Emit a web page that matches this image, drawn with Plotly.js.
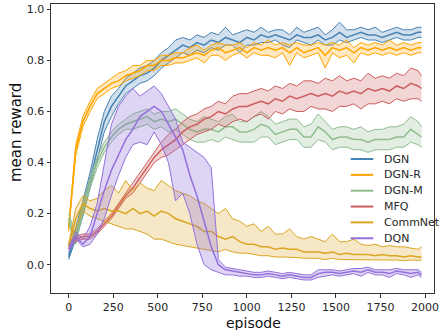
<!DOCTYPE html>
<html>
<head>
<meta charset="utf-8">
<script src="https://cdn.plot.ly/plotly-3.0.1.min.js"></script>
<style>html,body{margin:0;padding:0;background:#fff;}#chart{width:440px;height:330px;}</style>
</head>
<body>
<div id="chart"></div>
<script>
const episodes = [0,40,80,120,160,200,240,280,320,360,
  400,440,480,520,560,600,640,680,720,760,
  800,840,880,920,960,1000,1040,1080,1120,1160,
  1200,1240,1280,1320,1360,1400,1440,1480,1520,1560,
  1600,1640,1680,1720,1760,1800,1840,1880,1920,1960,1980];

const seriesNames = ["DGN","DGN-R","DGN-M","MFQ","CommNet","DQN"];

const dgnMean = [0.03,0.12,0.22,0.33,0.45,0.56,0.62,0.66,0.70,0.72,
  0.74,0.75,0.77,0.80,0.82,0.84,0.86,0.85,0.87,0.86,
  0.88,0.87,0.89,0.88,0.87,0.89,0.88,0.90,0.89,0.90,
  0.89,0.88,0.90,0.89,0.89,0.90,0.88,0.89,0.91,0.89,
  0.90,0.91,0.90,0.90,0.89,0.90,0.91,0.90,0.90,0.91,0.91];
const dgnUpper = [0.04,0.14,0.25,0.36,0.49,0.60,0.66,0.69,0.73,0.75,
  0.77,0.78,0.80,0.83,0.85,0.88,0.89,0.88,0.90,0.89,
  0.91,0.90,0.93,0.90,0.91,0.92,0.91,0.93,0.91,0.92,
  0.92,0.90,0.93,0.91,0.92,0.93,0.90,0.92,0.95,0.92,
  0.92,0.93,0.92,0.93,0.91,0.92,0.93,0.92,0.92,0.93,0.93];
const dgnLower = [0.02,0.10,0.19,0.30,0.41,0.52,0.58,0.63,0.67,0.69,
  0.71,0.72,0.74,0.77,0.79,0.81,0.83,0.82,0.84,0.83,
  0.85,0.84,0.86,0.86,0.83,0.86,0.86,0.87,0.87,0.88,
  0.86,0.85,0.88,0.87,0.86,0.88,0.86,0.86,0.88,0.87,
  0.88,0.89,0.88,0.88,0.87,0.88,0.89,0.88,0.88,0.89,0.89];

const dgnrMean = [0.14,0.45,0.56,0.62,0.67,0.69,0.71,0.72,0.74,0.75,
  0.76,0.78,0.78,0.80,0.80,0.81,0.81,0.82,0.83,0.82,
  0.84,0.85,0.83,0.84,0.85,0.83,0.85,0.84,0.85,0.84,
  0.85,0.83,0.85,0.83,0.84,0.85,0.82,0.85,0.84,0.85,
  0.83,0.85,0.84,0.85,0.84,0.85,0.84,0.85,0.84,0.85,0.85];
const dgnrUpper = [0.15,0.47,0.58,0.64,0.69,0.71,0.73,0.75,0.76,0.78,
  0.78,0.80,0.80,0.82,0.82,0.83,0.83,0.85,0.86,0.84,
  0.86,0.87,0.86,0.86,0.87,0.85,0.87,0.86,0.88,0.86,
  0.87,0.86,0.87,0.86,0.86,0.87,0.86,0.87,0.86,0.88,
  0.85,0.87,0.86,0.87,0.86,0.88,0.86,0.87,0.86,0.87,0.87];
const dgnrLower = [0.13,0.43,0.54,0.60,0.65,0.67,0.69,0.70,0.72,0.73,
  0.74,0.76,0.76,0.78,0.78,0.79,0.79,0.80,0.81,0.79,
  0.82,0.82,0.80,0.82,0.83,0.81,0.83,0.82,0.82,0.81,
  0.83,0.78,0.83,0.81,0.82,0.83,0.77,0.83,0.81,0.82,
  0.79,0.83,0.82,0.83,0.82,0.83,0.82,0.83,0.82,0.83,0.83];

const dgnmMean = [0.18,0.10,0.22,0.32,0.40,0.46,0.50,0.53,0.55,0.56,
  0.57,0.58,0.56,0.57,0.56,0.57,0.55,0.53,0.52,0.53,
  0.53,0.52,0.54,0.54,0.52,0.52,0.53,0.55,0.54,0.51,
  0.52,0.53,0.53,0.50,0.50,0.54,0.52,0.49,0.50,0.50,
  0.49,0.49,0.48,0.49,0.49,0.49,0.50,0.50,0.53,0.51,0.50];
const dgnmUpper = [0.20,0.12,0.24,0.34,0.42,0.48,0.52,0.55,0.57,0.59,
  0.60,0.61,0.59,0.60,0.60,0.61,0.59,0.57,0.56,0.58,
  0.57,0.56,0.58,0.59,0.56,0.56,0.58,0.60,0.58,0.55,
  0.56,0.57,0.57,0.54,0.55,0.59,0.56,0.53,0.54,0.54,
  0.53,0.54,0.52,0.53,0.53,0.54,0.54,0.55,0.58,0.56,0.54];
const dgnmLower = [0.16,0.08,0.20,0.30,0.38,0.44,0.48,0.51,0.53,0.53,
  0.54,0.55,0.53,0.54,0.52,0.53,0.51,0.49,0.48,0.48,
  0.49,0.48,0.50,0.49,0.48,0.48,0.48,0.50,0.50,0.47,
  0.48,0.49,0.49,0.46,0.46,0.49,0.48,0.45,0.46,0.46,
  0.45,0.45,0.44,0.45,0.45,0.45,0.46,0.46,0.48,0.47,0.46];

const mfqMean = [0.08,0.10,0.11,0.11,0.13,0.16,0.19,0.23,0.27,0.30,
  0.34,0.38,0.42,0.45,0.47,0.49,0.52,0.54,0.55,0.57,
  0.58,0.60,0.59,0.61,0.62,0.62,0.63,0.64,0.63,0.65,
  0.64,0.66,0.65,0.66,0.67,0.66,0.67,0.66,0.68,0.67,
  0.68,0.67,0.69,0.68,0.69,0.68,0.70,0.69,0.71,0.70,0.69];
const mfqUpper = [0.09,0.11,0.12,0.12,0.14,0.17,0.20,0.24,0.28,0.32,
  0.36,0.40,0.44,0.48,0.51,0.53,0.56,0.58,0.59,0.61,
  0.62,0.64,0.63,0.66,0.67,0.67,0.68,0.69,0.68,0.70,
  0.69,0.71,0.70,0.72,0.72,0.71,0.73,0.72,0.74,0.72,
  0.73,0.72,0.75,0.73,0.74,0.73,0.75,0.74,0.77,0.76,0.74];
const mfqLower = [0.07,0.09,0.10,0.10,0.12,0.15,0.18,0.22,0.26,0.28,
  0.32,0.36,0.40,0.42,0.43,0.45,0.47,0.49,0.51,0.52,
  0.53,0.55,0.54,0.56,0.57,0.56,0.58,0.59,0.57,0.60,
  0.59,0.61,0.60,0.60,0.62,0.61,0.61,0.60,0.62,0.62,
  0.63,0.61,0.63,0.63,0.64,0.63,0.65,0.64,0.65,0.65,0.64];

const commMean = [0.07,0.18,0.24,0.22,0.21,0.22,0.21,0.21,0.20,0.22,
  0.20,0.21,0.19,0.21,0.20,0.18,0.17,0.16,0.15,0.13,
  0.13,0.11,0.10,0.11,0.09,0.08,0.08,0.07,0.07,0.06,
  0.065,0.06,0.06,0.05,0.05,0.05,0.045,0.05,0.04,0.045,
  0.04,0.04,0.04,0.035,0.04,0.035,0.035,0.03,0.035,0.03,0.03];
const commUpper = [0.08,0.22,0.27,0.25,0.26,0.29,0.31,0.28,0.33,0.29,
  0.32,0.30,0.29,0.33,0.31,0.29,0.28,0.27,0.25,0.24,
  0.22,0.20,0.22,0.18,0.17,0.15,0.16,0.13,0.15,0.12,
  0.12,0.14,0.11,0.10,0.11,0.10,0.09,0.12,0.09,0.09,
  0.10,0.08,0.075,0.08,0.07,0.075,0.07,0.07,0.065,0.06,0.07];
const commLower = [0.06,0.14,0.21,0.19,0.18,0.17,0.16,0.15,0.14,0.14,
  0.13,0.12,0.10,0.10,0.09,0.08,0.075,0.07,0.065,0.06,
  0.055,0.05,0.06,0.05,0.045,0.045,0.04,0.035,0.035,0.03,
  0.03,0.03,0.028,0.025,0.025,0.025,0.02,0.025,0.02,0.02,
  0.02,0.02,0.018,0.02,0.018,0.02,0.018,0.016,0.018,0.017,0.018];

const dqnMean = [0.06,0.11,0.08,0.11,0.20,0.29,0.37,0.43,0.49,0.53,
  0.58,0.60,0.62,0.60,0.55,0.50,0.45,0.35,0.27,0.17,
  0.07,0.00,-0.02,-0.025,-0.03,-0.035,-0.04,-0.04,-0.035,-0.04,
  -0.045,-0.04,-0.045,-0.05,-0.05,-0.035,-0.03,-0.03,-0.035,-0.03,
  -0.025,-0.03,-0.02,-0.03,-0.03,-0.035,-0.025,-0.03,-0.035,-0.03,-0.04];
const dqnUpper = [0.07,0.13,0.10,0.15,0.24,0.40,0.55,0.62,0.66,0.69,
  0.66,0.68,0.70,0.67,0.62,0.57,0.48,0.46,0.44,0.42,
  0.38,0.02,-0.01,-0.015,-0.02,-0.025,-0.03,-0.03,-0.025,-0.03,
  -0.035,-0.03,-0.035,-0.04,-0.04,-0.02,-0.02,-0.02,-0.025,-0.02,
  -0.015,-0.015,-0.01,-0.02,-0.02,-0.02,-0.015,-0.02,-0.02,-0.02,-0.03];
const dqnLower = [0.05,0.10,0.07,0.08,0.12,0.18,0.27,0.35,0.42,0.47,
  0.48,0.47,0.52,0.47,0.40,0.25,0.28,0.20,0.08,0.00,
  -0.02,-0.03,-0.04,-0.04,-0.045,-0.045,-0.05,-0.05,-0.045,-0.05,
  -0.055,-0.05,-0.055,-0.06,-0.06,-0.05,-0.045,-0.04,-0.045,-0.04,
  -0.035,-0.045,-0.03,-0.04,-0.04,-0.05,-0.035,-0.04,-0.05,-0.04,-0.05];

const xTicks = [0,250,500,750,1000,1250,1500,1750,2000];
const yTicks = [0.0,0.2,0.4,0.6,0.8,1.0];
const yTickText = ["0.0","0.2","0.4","0.6","0.8","1.0"];

const colors = ["#4682B4","#FFA500","#8FBC8F","#CD5C5C","#DAA520","#9370DB"];
const fills = ["rgba(70,130,180,0.25)","rgba(255,165,0,0.25)","rgba(143,188,143,0.25)",
  "rgba(205,92,92,0.25)","rgba(218,165,32,0.25)","rgba(147,112,219,0.3)"];

const means = [dgnMean,dgnrMean,dgnmMean,mfqMean,commMean,dqnMean];
const uppers = [dgnUpper,dgnrUpper,dgnmUpper,mfqUpper,commUpper,dqnUpper];
const lowers = [dgnLower,dgnrLower,dgnmLower,mfqLower,commLower,dqnLower];

const traces = [];
for (let i = 0; i < seriesNames.length; i++) {
  traces.push({x: episodes, y: uppers[i], type: "scatter", mode: "lines",
    line: {color: colors[i], width: 1}, opacity: 0.85, showlegend: false, hoverinfo: "skip"});
  traces.push({x: episodes, y: lowers[i], type: "scatter", mode: "lines", fill: "tonexty",
    fillcolor: fills[i], line: {color: colors[i], width: 1}, opacity: 0.85, showlegend: false, hoverinfo: "skip"});
  traces.push({x: episodes, y: means[i], type: "scatter", mode: "lines", name: seriesNames[i],
    line: {color: colors[i], width: 1.5}, showlegend: false});
}

// plot area in pixels: x 51..434, y 4..293
const L = 51, R = 434, T = 4, B = 293;
const px = v => (v - L) / (R - L);
const py = v => (B - v) / (B - T);

const shapes = [];
const annotations = [];
// legend (drawn as shapes + text, frameless like the reference)
const legTop = 159, legStep = 15.85;
for (let i = 0; i < seriesNames.length; i++) {
  const yy = py(legTop + i * legStep);
  shapes.push({type: "line", xref: "paper", yref: "paper", x0: px(350.7), x1: px(373.3),
    y0: yy, y1: yy, line: {color: colors[i], width: 2}});
  annotations.push({xref: "paper", yref: "paper", x: px(382.5), y: yy, xanchor: "left", yanchor: "middle",
    text: seriesNames[i], showarrow: false, borderpad: 0, font: {family: "DejaVu Sans", size: 11, color: "#262626"}});
}
annotations.push({xref: "paper", yref: "paper", x: px(253), y: py(323), xanchor: "center", yanchor: "middle",
  text: "episode", showarrow: false, borderpad: 0, font: {family: "DejaVu Sans", size: 14, color: "#111"}});
annotations.push({xref: "paper", yref: "paper", x: px(16), y: py(133), xanchor: "center", yanchor: "middle",
  text: "mean reward", textangle: -90, showarrow: false, borderpad: 0, font: {family: "DejaVu Sans", size: 15, color: "#111"}});

const axisCommon = {
  showline: true, linecolor: "#333", linewidth: 1, mirror: true,
  ticks: "outside", ticklen: 3.5, tickwidth: 1, tickcolor: "#333",
  showgrid: false, zeroline: false,
  tickfont: {family: "DejaVu Sans", size: 11, color: "#262626"}
};

const layout = {
  width: 440, height: 330,
  margin: {l: 51, r: 6, t: 4, b: 37, pad: 0},
  paper_bgcolor: "#fff", plot_bgcolor: "#fff",
  font: {family: "DejaVu Sans", color: "#262626"},
  xaxis: Object.assign({}, axisCommon, {
    range: [-99, 2050], tickmode: "array", tickvals: xTicks
  }),
  yaxis: Object.assign({}, axisCommon, {
    range: [-0.111, 1.021], tickmode: "array", tickvals: yTicks, ticktext: yTickText
  }),
  shapes: shapes,
  annotations: annotations,
  showlegend: false
};

Plotly.newPlot("chart", traces, layout, {staticPlot: true, displayModeBar: false});
</script>
</body>
</html>
